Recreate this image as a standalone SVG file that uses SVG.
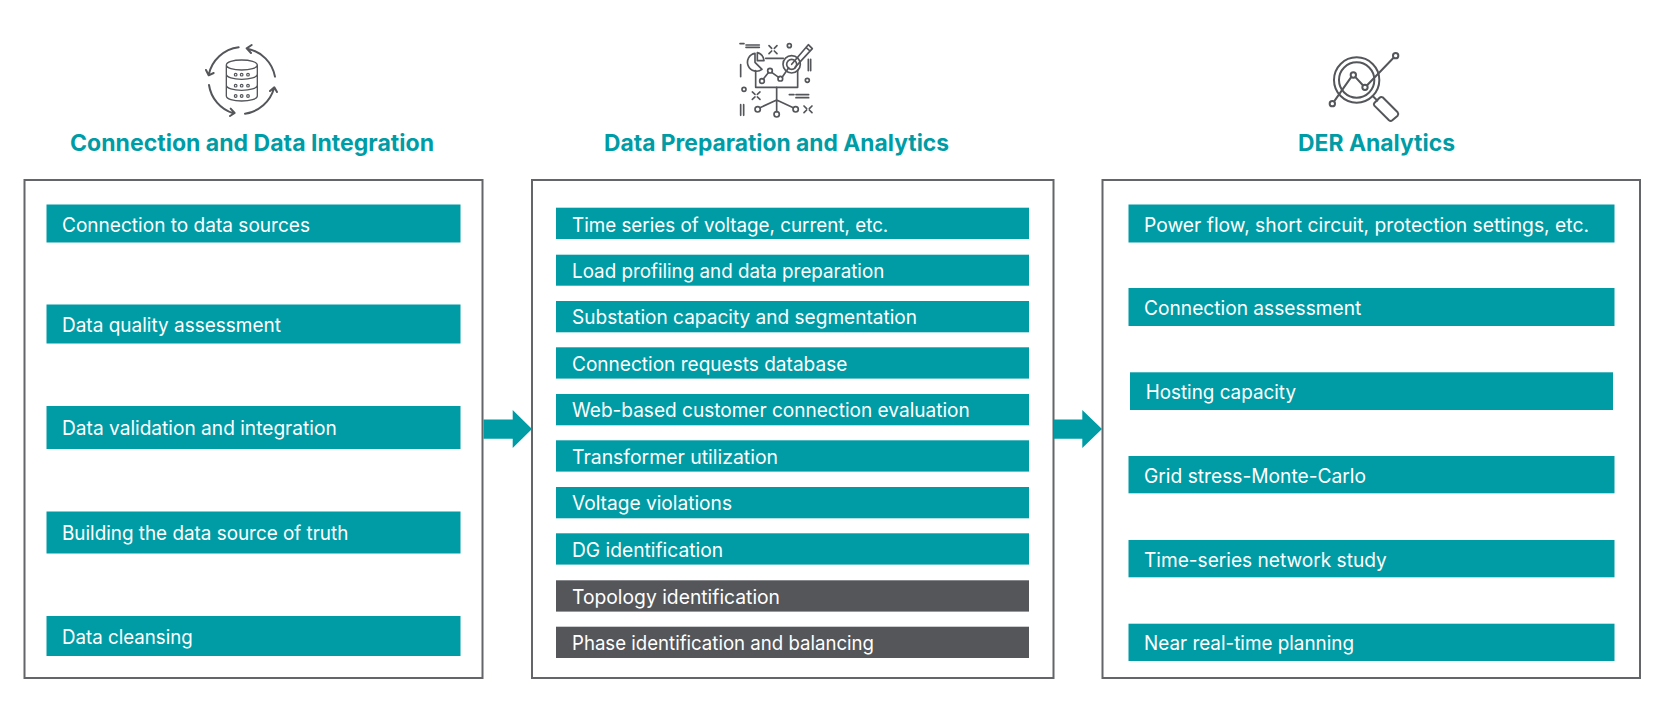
<svg xmlns="http://www.w3.org/2000/svg" width="1665" height="708" viewBox="0 0 1665 708">
<style>
.box{fill:#fff;stroke:#636569;stroke-width:2}
.bar{fill:#009ca6}
.dark{fill:#54565a}
.t{font-family:"Inter","Noto Sans","Liberation Sans",sans-serif;font-size:20px;fill:#fff}
.h{font-family:"Inter","Noto Sans","Liberation Sans",sans-serif;font-size:22.5px;font-weight:700;fill:#009ca6;text-anchor:start}
.arrow{fill:#009ca6}
.i{fill:none;stroke:#54565a;stroke-linecap:round;stroke-linejoin:round}
</style>
<rect width="1665" height="708" fill="#fff"/>

<g id="icon-data" class="i" transform="translate(180,30) scale(.3333)" stroke-width="6">
<path d="M176 52A105 105 0 0 0 86 135M78 120L86 136L101 129"/>
<path d="M87 165A105 105 0 0 0 160 250M150 258L164 249L152 236"/>
<path d="M195 251A105 105 0 0 0 282 175M270 183L283 172L291 186" />
<path d="M285 140A105 105 0 0 0 202 56M215 45L200 55L213 69"/>
<path stroke-width="4" d="M139 105V198C139 207 160 213 185 213S232 207 232 198V105M139 105C139 96 160 90 185 90S232 96 232 105S210 120 185 120S139 114 139 105ZM139 133C139 142 160 148 185 148S232 142 232 133M139 166C139 175 160 181 185 181S232 175 232 166"/>
<g stroke-width="3.5"><circle cx="167" cy="134" r="4"/><circle cx="185" cy="134" r="4"/><circle cx="204" cy="134" r="4"/><circle cx="167" cy="167" r="4"/><circle cx="185" cy="167" r="4"/><circle cx="204" cy="167" r="4"/><circle cx="167" cy="198" r="4"/><circle cx="185" cy="198" r="4"/><circle cx="204" cy="198" r="4"/></g>
</g>

<g id="icon-analytics" class="i" transform="translate(720,30) scale(.3333)" stroke-width="5">
<path d="M60 41H72M78 45H118M78 52H118"/>
<path d="M147 47L155 55M171 47L163 55M147 71L155 63M171 71L163 63"/>
<circle cx="208" cy="47" r="6"/>
<path d="M137 85H190M233 120V172H107V122"/>
<path d="M105 70A27 27 0 1 0 126 118L105 97ZM112 68A27 27 0 0 1 132 92H112Z"/>
<circle cx="215" cy="103" r="26"/><circle cx="215" cy="103" r="15"/>
<path d="M215 103L265 44L277 56L225 112M258 52L270 63"/>
<path d="M130 147L146 127M155 127L176 142M187 141L206 113"/>
<circle cx="126" cy="153" r="7"/><circle cx="150" cy="122" r="7"/><circle cx="181" cy="146" r="7"/>
<path d="M265 88V122M272 88V122"/>
<path d="M62 104V140"/>
<circle cx="262" cy="151" r="6"/><circle cx="72" cy="178" r="6"/>
<path d="M97 186L105 193M120 186L112 193M97 208L105 201M120 208L112 201"/>
<path d="M208 194H222M228 194H266M228 203H266"/>
<path d="M170 172V245M170 210L120 233M170 210L220 233"/>
<circle cx="113" cy="238" r="8"/><circle cx="227" cy="238" r="8"/><circle cx="170" cy="253" r="8"/>
<path d="M252 228L260 236M276 228L268 236M252 248L260 240M276 248L268 240"/>
<path d="M62 224V256M71 224V256"/>
</g>

<g id="icon-der" class="i" transform="translate(1310,40) scale(.3333)" stroke-width="6">
<circle cx="140" cy="120" r="68"/><circle cx="140" cy="120" r="53"/>
<path d="M74 182L123 112M137 112L158 135M172 135L250 54"/>
<circle cx="130" cy="105" r="8"/><circle cx="165" cy="142" r="8"/><circle cx="257" cy="47" r="8"/><circle cx="67" cy="191" r="8"/>
<path d="M188 168L202 182"/>
<path d="M218 172L263 217Q267 222 263 227L247 241Q242 245 237 241L193 197Q190 192 193 189L208 174Q213 169 218 172Z"/>
</g>

<text class="h" x="70" y="151" textLength="364" lengthAdjust="spacingAndGlyphs">Connection and Data Integration</text>
<text class="h" x="604" y="151" textLength="345" lengthAdjust="spacingAndGlyphs">Data Preparation and Analytics</text>
<text class="h" x="1298" y="151" textLength="157" lengthAdjust="spacingAndGlyphs">DER Analytics</text>

<g id="box-integration">
<rect class="box" x="24.5" y="180" width="458" height="498"/>
<g id="n1-1"><rect class="bar" x="46.5" y="204.5" width="414" height="38"/><text class="t" x="62" y="231.7" textLength="248" lengthAdjust="spacingAndGlyphs">Connection to data sources</text></g>
<g id="n1-2"><rect class="bar" x="46.5" y="304.5" width="414" height="39"/><text class="t" x="62" y="332.3" textLength="219" lengthAdjust="spacingAndGlyphs">Data quality assessment</text></g>
<g id="n1-3"><rect class="bar" x="46.5" y="406" width="414" height="43"/><text class="t" x="62" y="435" textLength="274.7" lengthAdjust="spacingAndGlyphs">Data validation and integration</text></g>
<g id="n1-4"><rect class="bar" x="46.5" y="511.5" width="414" height="42"/><text class="t" x="62" y="540" textLength="286.3" lengthAdjust="spacingAndGlyphs">Building the data source of truth</text></g>
<g id="n1-5"><rect class="bar" x="46.5" y="616" width="414" height="40"/><text class="t" x="62" y="644" textLength="130.7" lengthAdjust="spacingAndGlyphs">Data cleansing</text></g>
</g>

<g id="box-preparation">
<rect class="box" x="532" y="180" width="521.5" height="498"/>
<g id="n2-1"><rect class="bar" x="556" y="207.7" width="473" height="31.3"/><text class="t" x="572" y="231.7" textLength="316.3" lengthAdjust="spacingAndGlyphs">Time series of voltage, current, etc.</text></g>
<g id="n2-2"><rect class="bar" x="556" y="254.7" width="473" height="31"/><text class="t" x="572" y="278.3" textLength="312.3" lengthAdjust="spacingAndGlyphs">Load profiling and data preparation</text></g>
<g id="n2-3"><rect class="bar" x="556" y="301" width="473" height="31.3"/><text class="t" x="572" y="324.3" textLength="345" lengthAdjust="spacingAndGlyphs">Substation capacity and segmentation</text></g>
<g id="n2-4"><rect class="bar" x="556" y="347.3" width="473" height="31.3"/><text class="t" x="572" y="371" textLength="275.3" lengthAdjust="spacingAndGlyphs">Connection requests database</text></g>
<g id="n2-5"><rect class="bar" x="556" y="394" width="473" height="31.3"/><text class="t" x="572" y="417.3" textLength="397.7" lengthAdjust="spacingAndGlyphs">Web-based customer connection evaluation</text></g>
<g id="n2-6"><rect class="bar" x="556" y="440.3" width="473" height="31.3"/><text class="t" x="572" y="464" textLength="206" lengthAdjust="spacingAndGlyphs">Transformer utilization</text></g>
<g id="n2-7"><rect class="bar" x="556" y="487" width="473" height="31.3"/><text class="t" x="572" y="510" textLength="160" lengthAdjust="spacingAndGlyphs">Voltage violations</text></g>
<g id="n2-8"><rect class="bar" x="556" y="533.3" width="473" height="31.3"/><text class="t" x="572" y="556.7" textLength="151" lengthAdjust="spacingAndGlyphs">DG identification</text></g>
<g id="n2-9"><rect class="dark" x="556" y="580.3" width="473" height="31.3"/><text class="t" x="572" y="604" textLength="208" lengthAdjust="spacingAndGlyphs">Topology identification</text></g>
<g id="n2-10"><rect class="dark" x="556" y="626.7" width="473" height="31.3"/><text class="t" x="572" y="650" textLength="302" lengthAdjust="spacingAndGlyphs">Phase identification and balancing</text></g>
</g>

<g id="box-der">
<rect class="box" x="1102.5" y="180" width="537.5" height="498"/>
<g id="n3-1"><rect class="bar" x="1128.5" y="204.5" width="486" height="38"/><text class="t" x="1144" y="231.7" textLength="445" lengthAdjust="spacingAndGlyphs">Power flow, short circuit, protection settings, etc.</text></g>
<g id="n3-2"><rect class="bar" x="1128.5" y="288" width="486" height="38"/><text class="t" x="1144" y="315.3" textLength="217.3" lengthAdjust="spacingAndGlyphs">Connection assessment</text></g>
<g id="n3-3"><rect class="bar" x="1130" y="372.3" width="483" height="37.7"/><text class="t" x="1145.7" y="399.3" textLength="150.3" lengthAdjust="spacingAndGlyphs">Hosting capacity</text></g>
<g id="n3-4"><rect class="bar" x="1128.5" y="456" width="486" height="37.3"/><text class="t" x="1144" y="483.3" textLength="222" lengthAdjust="spacingAndGlyphs">Grid stress-Monte-Carlo</text></g>
<g id="n3-5"><rect class="bar" x="1128.5" y="540" width="486" height="37.3"/><text class="t" x="1144" y="566.7" textLength="242.7" lengthAdjust="spacingAndGlyphs">Time-series network study</text></g>
<g id="n3-6"><rect class="bar" x="1128.5" y="623.7" width="486" height="37.3"/><text class="t" x="1144" y="650" textLength="210" lengthAdjust="spacingAndGlyphs">Near real-time planning</text></g>
</g>

<g id="connectors">
<polygon class="arrow" points="483.5,419.5 512.7,419.5 512.7,410 532,429 512.7,448 512.7,438.7 483.5,438.7"/>
<polygon class="arrow" points="1054,419.5 1082.3,419.5 1082.3,410 1102,429 1082.3,448 1082.3,438.7 1054,438.7"/>
</g>
</svg>
